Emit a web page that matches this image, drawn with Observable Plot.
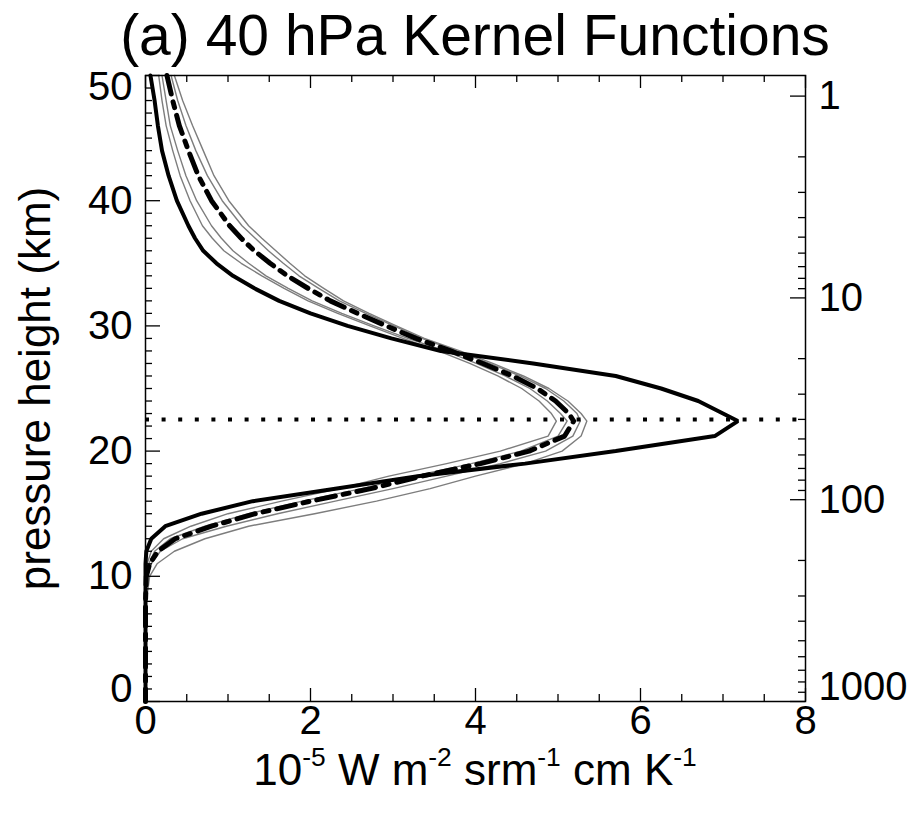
<!DOCTYPE html>
<html>
<head>
<meta charset="utf-8">
<script src="https://cdn.jsdelivr.net/npm/d3@7"></script>
<script src="https://cdn.jsdelivr.net/npm/@observablehq/plot@0.6"></script>
<style>
  body { margin: 0; background: #fff; font-family: "Liberation Sans", Arial, Helvetica, sans-serif; }
  #wrap { position: relative; width: 918px; height: 818px; overflow: hidden; background: #fff; }
  .lbl { position: absolute; left: 475px; transform: translateX(-50%); white-space: nowrap; color: #000; }
  #title { top: 0; font-size: 57px; line-height: 70px; }
  #xlabel { top: 745px; font-size: 44px; line-height: 50px; }
  .sup { font-size: 0.6em; position: relative; top: -0.72em; }
  #chart { position: absolute; top: 70px; left: 0; }
</style>
</head>
<body>
<div id="wrap">
  <div id="title" class="lbl">(a) 40 hPa Kernel Functions</div>
  <div id="chart"></div>
  <div id="xlabel" class="lbl">10<span class="sup">-5</span> W m<span class="sup">-2</span> srm<span class="sup">-1</span> cm K<span class="sup">-1</span></div>
</div>
<script>
// pressure heights (km) at which the kernels are read
const heights = [50,48,46,44,42,40,38,37,36,35,34,33,32,31, 30,29,28,27,26,25,24,23,22.4,21.2, 20,19,18,17,16,15,14,13,12,11, 10,8,5,0];
// thick solid black kernel
const kernelSolid = [0.06,0.11,0.15,0.20,0.28,0.38,0.52,0.60,0.70,0.86,1.06,1.32,1.62,2.00, 2.45,2.98,3.58,4.70,5.70,6.25,6.70,7.00,7.18,6.90, 5.70,4.60,3.30,2.30,1.30,0.68,0.24,0.07,0.01,0, 0,0,0,0];
// thick dash-dot kernel
const kernelDashDot = [0.26,0.33,0.41,0.52,0.64,0.80,1.02,1.16,1.32,1.51,1.72,1.97,2.24,2.57, 2.92,3.28,3.70,4.09,4.45,4.75,4.97,5.13,5.19,5.08, 4.65,4.06,3.35,2.73,2.00,1.33,0.80,0.36,0.15,0.05, 0.01,0,0,0];
// thin grey kernels
const kernelGrey1 = [0.16,0.20,0.25,0.33,0.42,0.54,0.69,0.81,0.95,1.16,1.41,1.68,1.97,2.33, 2.72,3.12,3.55,3.93,4.27,4.56,4.77,4.92,4.98,4.88, 4.30,3.65,2.95,2.35,1.65,1.00,0.55,0.22,0.07,0.02, 0,0,0,0];
const kernelGrey2 = [0.20,0.25,0.30,0.39,0.49,0.62,0.80,0.92,1.06,1.25,1.46,1.73,2.02,2.38, 2.77,3.18,3.63,4.01,4.36,4.66,4.87,5.03,5.11,5.00, 4.55,3.95,3.25,2.62,1.90,1.25,0.72,0.30,0.11,0.04, 0.01,0,0,0];
const kernelGrey3 = [0.31,0.39,0.49,0.61,0.75,0.93,1.17,1.33,1.49,1.67,1.86,2.10,2.35,2.67, 3.01,3.35,3.77,4.17,4.54,4.85,5.07,5.23,5.27,5.18, 4.85,4.30,3.65,3.00,2.30,1.60,0.98,0.45,0.18,0.07, 0.02,0,0,0];
const kernelGrey4 = [0.35,0.45,0.57,0.70,0.83,1.01,1.25,1.41,1.58,1.75,1.93,2.16,2.40,2.71, 3.04,3.38,3.81,4.21,4.58,4.89,5.12,5.28,5.35,5.28, 5.05,4.60,4.00,3.45,2.80,2.05,1.25,0.72,0.35,0.14, 0.05,0.01,0,0];

// axes
const xTicks = [0,2,4,6,8];
const xMinorTicks = [0.5,1,1.5,2.5,3,3.5,4.5,5,5.5,6.5,7,7.5];
const yTicks = [0,10,20,30,40,50];
const yMinorTicks = d3.range(1,50).filter(d => d % 10 !== 0);
const pressureTicks = [1,10,100,1000];            // hPa, right axis labels
const pressureMinorTicks = [2,3,4,5,6,7,8,9,20,30,40,50,60,70,80,90,200,300,400,500,600,700,800,900];
const scaleHeight = 7;                              // km
const kernelLevel = 40;                             // hPa (dotted line)
const pz = p => scaleHeight * Math.log(1000 / p);

const W = 918, H = 675, mL = 145, mR = 113, mT = 5, mB = 44;
const fw = W - mL - mR, fh = H - mT - mB;

const greyStyle = {stroke: "#7d7d7d", strokeWidth: 1.4};
const line = (vals, style) => Plot.line(heights, {x: (d, i) => vals[i], y: d => d, ...style});

const chart = Plot.plot({
  width: W, height: H,
  marginLeft: mL, marginRight: mR, marginTop: mT, marginBottom: mB,
  x: {domain: [0, 8], axis: null},
  y: {domain: [0, 50], axis: null},
  style: {fontFamily: "'Liberation Sans', Arial, Helvetica, sans-serif", background: "white", overflow: "visible"},
  marks: [
    line(kernelGrey1, greyStyle),
    line(kernelGrey2, greyStyle),
    line(kernelGrey3, greyStyle),
    line(kernelGrey4, greyStyle),
    Plot.ruleY([pz(kernelLevel)], {stroke: "black", strokeWidth: 4, strokeDasharray: "4,12.6"}),
    line(kernelSolid, {stroke: "black", strokeWidth: 4, strokeLinejoin: "miter"}),
    line(kernelDashDot, {stroke: "black", strokeWidth: 5, strokeDasharray: "19,8,6,8"}),
    // ticks (inward)
    Plot.tickX(xTicks, {x: d => d, insetTop: fh - 13, stroke: "black", strokeWidth: 1.3}),
    Plot.tickX(xMinorTicks, {x: d => d, insetTop: fh - 7, stroke: "black", strokeWidth: 1.3}),
    Plot.tickX(xTicks, {x: d => d, insetBottom: fh - 13, stroke: "black", strokeWidth: 1.3}),
    Plot.tickX(xMinorTicks, {x: d => d, insetBottom: fh - 7, stroke: "black", strokeWidth: 1.3}),
    Plot.tickY(yTicks, {y: d => d, insetRight: fw - 15, stroke: "black", strokeWidth: 1.3}),
    Plot.tickY(yMinorTicks, {y: d => d, insetRight: fw - 7, stroke: "black", strokeWidth: 1.3}),
    Plot.tickY(pressureTicks, {y: pz, insetLeft: fw - 15, stroke: "black", strokeWidth: 1.3}),
    Plot.tickY(pressureMinorTicks, {y: pz, insetLeft: fw - 7, stroke: "black", strokeWidth: 1.3}),
    Plot.frame({stroke: "black", strokeWidth: 1.5}),
    // tick labels
    Plot.text(xTicks, {x: d => d, frameAnchor: "bottom", lineAnchor: "top", dy: 4, text: d => String(d), fontSize: 40, fill: "black"}),
    Plot.text(yTicks.filter(d => d > 0 && d < 50), {y: d => d, frameAnchor: "left", textAnchor: "end", dx: -13, text: d => String(d), fontSize: 40, fill: "black"}),
    Plot.text(yTicks.filter(d => d === 50), {y: d => d, frameAnchor: "left", textAnchor: "end", dx: -13, dy: 12, text: d => String(d), fontSize: 40, fill: "black"}),
    Plot.text(yTicks.filter(d => d === 0), {y: d => d, frameAnchor: "left", textAnchor: "end", dx: -13, dy: -12, text: d => String(d), fontSize: 40, fill: "black"}),
    Plot.text(pressureTicks.filter(p => p < 1000), {y: pz, frameAnchor: "right", textAnchor: "start", dx: 13, text: d => String(d), fontSize: 40, fill: "black"}),
    Plot.text(pressureTicks.filter(p => p === 1000), {y: pz, frameAnchor: "right", textAnchor: "start", dx: 13, dy: -14, text: d => String(d), fontSize: 40, fill: "black"}),
    // y axis label
    Plot.text(["pressure height (km)"], {frameAnchor: "left", textAnchor: "middle", lineAnchor: "middle", rotate: -90, dx: -110, text: d => d, fontSize: 44, fill: "black"})
  ]
});
document.getElementById("chart").appendChild(chart);
</script>
</body>
</html>
